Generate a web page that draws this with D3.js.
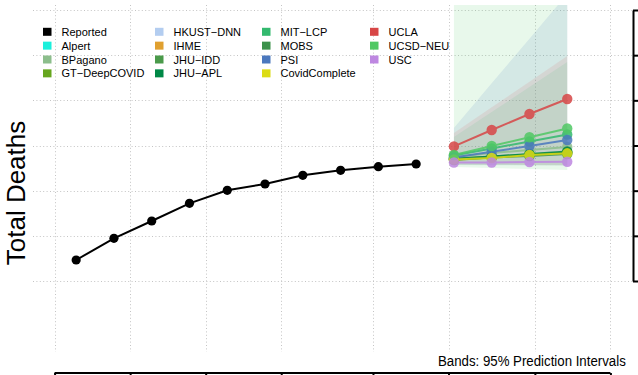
<!DOCTYPE html>
<html><head><meta charset="utf-8">
<script src="https://cdn.jsdelivr.net/npm/d3@7"></script>
<style>html,body{margin:0;padding:0;background:#fff;} svg{display:block;}</style>
</head><body>
<svg id="chart" width="638" height="375"></svg>
<script>
// ---- data ----
const reportedDates = ["2021-02-05","2021-02-12","2021-02-19","2021-02-26","2021-03-05","2021-03-12","2021-03-19","2021-03-26","2021-04-02","2021-04-09"];
const reportedValues = [64650, 69450, 73280, 77200, 80080, 81480, 83400, 84510, 85310, 85900];
const forecastDates = ["2021-04-16","2021-04-23","2021-04-30","2021-05-07"];
const models = ["Alpert","BPagano","GT\u2212DeepCOVID","HKUST\u2212DNN","IHME","JHU\u2212IDD","JHU\u2212APL","MIT\u2212LCP","MOBS","PSI","CovidComplete","UCLA","UCSD\u2212NEU","USC"];
const modelColors = ["#1BF0DC","#8CBE8C","#66A61E","#B3CDF0","#E0A030","#4A9A4A","#008846","#33B96E","#3C914B","#4B78BE","#DCDC14","#D74646","#50C864","#BE87E1"];
const forecastValues = [
  null,
  [87450, 88340, 89000, 89670],
  [86790, 87340, 87900, 88450],
  null,
  null,
  [87120, 87560, 88010, 88450],
  [87010, 87560, 88120, 88670],
  [87790, 89340, 90890, 92430],
  [86900, 87340, 87680, 88120],
  [87340, 88630, 89890, 91220],
  [86900, 87230, 87900, 88270],
  [89800, 93430, 96970, 100300],
  [87900, 89890, 91820, 93760],
  [86240, 86240, 86350, 86410]
];
const bandModels = ["UCSD\u2212NEU","PSI","UCLA","MIT\u2212LCP"];
const bandLower = [
  [85240, 85020, 84800, 84575],
  [85700, 85650, 85600, 85550],
  [85800, 85750, 85700, 85650],
  [85750, 85700, 85650, 85600]
];
const bandUpper = [
  [127000, 140000, 155000, 170000],
  [93870, 103760, 113650, 123540],
  [92770, 98450, 104140, 109820],
  [91880, 97420, 102950, 108490]
];
const yTicks = [60000, 70000, 80000, 90000, 100000, 110000, 120000];
const gridDates = ["2021-02-01","2021-02-15","2021-03-01","2021-03-15","2021-04-01","2021-04-15","2021-05-01","2021-05-15"];
const legendLabels = ["Reported"].concat(models);
const legendColors = ["#000000"].concat(modelColors);

// ---- chart ----
const parse = d3.utcParse("%Y-%m-%d");
const svg = d3.select("#chart");
const pL = 33, pR = 632, pT = 5, pB = 352;

const x = d3.scaleUtc().domain([parse("2021-01-28"), parse("2021-05-19")]).range([pL, pR]);
const y = d3.scaleLinear().domain([60000, 120000]).range([281, 10]);

const defs = svg.append("defs");
defs.append("clipPath").attr("id", "plotclip").append("rect")
  .attr("x", pL).attr("y", pT).attr("width", pR - pL).attr("height", pB - pT);

// grid
const grid = svg.append("g").attr("stroke", "#c4c4c4").attr("stroke-width", 1).attr("stroke-dasharray", "1,2.4");
grid.selectAll("line.h").data(yTicks).join("line").attr("class", "h")
  .attr("x1", pL).attr("x2", pR).attr("y1", d => Math.round(y(d)) + 0.5).attr("y2", d => Math.round(y(d)) + 0.5);
grid.selectAll("line.v").data(gridDates.map(parse)).join("line").attr("class", "v")
  .attr("y1", pT).attr("y2", pB).attr("x1", d => Math.round(x(d)) + 0.5).attr("x2", d => Math.round(x(d)) + 0.5);

// bands
const fDates = forecastDates.map(parse);
const bandOpac = [0.13, 0.13, 0.11, 0.10];
const area = d3.area().x(d => x(d.date)).y0(d => y(d.lo)).y1(d => y(d.hi));
const bandG = svg.append("g").attr("clip-path", "url(#plotclip)");
bandModels.forEach((m, i) => {
  const col = modelColors[models.indexOf(m)];
  const pts = fDates.map((d, j) => ({date: d, lo: bandLower[i][j], hi: bandUpper[i][j]}));
  bandG.append("path").datum(pts).attr("d", area).attr("fill", col).attr("fill-opacity", bandOpac[i]);
});

// reported
const rep = reportedDates.map((d, i) => ({date: parse(d), v: reportedValues[i]}));
const line = d3.line().x(d => x(d.date)).y(d => y(d.v));
svg.append("path").datum(rep).attr("d", line).attr("fill", "none").attr("stroke", "#000").attr("stroke-width", 2);
svg.append("g").selectAll("circle").data(rep).join("circle")
  .attr("cx", d => x(d.date)).attr("cy", d => y(d.v)).attr("r", 4.6).attr("fill", "#000");

// forecasts
const fg = svg.append("g").attr("clip-path", "url(#plotclip)");
models.forEach((m, i) => {
  if (!forecastValues[i]) return;
  const pts = fDates.map((d, j) => ({date: d, v: forecastValues[i][j]}));
  const g = fg.append("g").attr("opacity", 0.85);
  g.append("path").datum(pts).attr("d", line).attr("fill", "none").attr("stroke", modelColors[i]).attr("stroke-width", 2);
  g.selectAll("circle").data(pts).join("circle")
    .attr("cx", d => x(d.date)).attr("cy", d => y(d.v)).attr("r", 5.2).attr("fill", modelColors[i]);
});

// right axis
const ra = svg.append("g").attr("transform", `translate(${pR + 1},0)`)
  .call(d3.axisRight(y).tickValues(yTicks).tickSize(5).tickSizeOuter(0).tickFormat(""));
ra.select(".domain").attr("stroke-width", 2);
ra.selectAll(".tick line").attr("stroke-width", 2);

// bottom axis
const gd = gridDates.map(parse);
const ba = svg.append("g").attr("transform", "translate(0,373)")
  .call(d3.axisBottom(x).tickValues(gd).tickSize(5).tickSizeOuter(0).tickFormat(""));
ba.select(".domain").remove();
ba.selectAll(".tick line").attr("stroke-width", 2);
ba.append("line").attr("x1", x(gd[0])).attr("x2", x(gd[gd.length - 1])).attr("y1", 0).attr("y2", 0)
  .attr("stroke", "#000").attr("stroke-width", 2);

// y title
svg.append("text").attr("transform", "translate(25,193) rotate(-90)")
  .attr("text-anchor", "middle").attr("font-family", "Liberation Sans, Arial, sans-serif")
  .attr("font-size", 26).attr("fill", "#000").text("Total Deaths");

// legend
const colX = [43, 155, 262, 370];
const lg = svg.append("g").attr("font-family", "Liberation Sans, Arial, sans-serif").attr("font-size", 11);
legendLabels.forEach((lab, i) => {
  const c = Math.floor(i / 4), r = i % 4;
  const cy = 31.8 + r * 13.85;
  lg.append("rect").attr("x", colX[c]).attr("y", cy - 4).attr("width", 8.5).attr("height", 8).attr("fill", legendColors[i]);
  lg.append("text").attr("x", colX[c] + 18.5).attr("y", cy + 4).attr("fill", "#000").text(lab);
});

// note (condensed by horizontal scaling)
const noteG = svg.append("g");
const note = noteG.append("text").attr("x", 0).attr("y", 0)
  .attr("font-family", "Liberation Sans, Arial, sans-serif").attr("font-size", 15.5)
  .attr("fill", "#000").text("Bands: 95% Prediction Intervals");
const natW = note.node().getComputedTextLength();
const sx = 188 / natW;
noteG.attr("transform", `translate(438,366) scale(${sx},1)`);
</script>
</body></html>
